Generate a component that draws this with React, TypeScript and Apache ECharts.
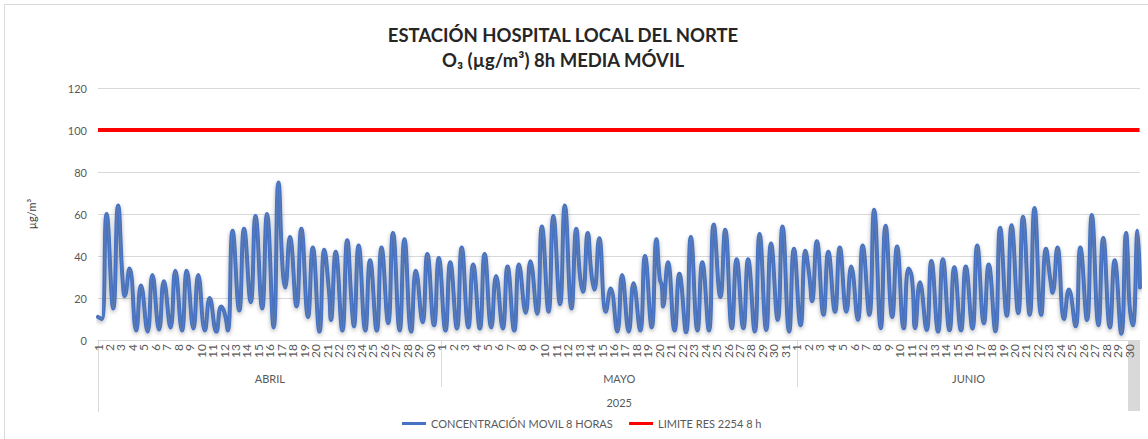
import React, { useEffect, useRef } from 'react';
import * as echarts from 'echarts';

const TITLE_1 = 'ESTACIÓN HOSPITAL LOCAL DEL NORTE';
const TITLE_2 = 'O₃ (µg/m³) 8h MEDIA MÓVIL';
const Y_NAME = 'µg/m³';
const YEAR = '2025';
const MONTHS = ['ABRIL', 'MAYO', 'JUNIO'];
const DAYS_IN_MONTH = [30, 31, 30];
const SERIES_NAMES = ['CONCENTRACIÓN MOVIL 8 HORAS', 'LIMITE RES 2254 8 h'];
const LIMIT_VALUE = 100;

// Daily minimum (morning) and maximum (evening) of the 8h moving average
const APR_TROUGH = [10, 15, 21, 4.5, 4, 5, 6, 4.5, 5.5, 4.5, 4, 4.5, 14, 18, 15, 6, 25, 16, 11, 4, 9.5, 4.5, 6.5, 4.5, 4.5, 8, 4.5, 4, 8.5, 7];
const APR_PEAK = [60, 64, 34, 26, 31, 28, 33, 33, 31, 20, 16, 52, 53, 59, 60, 75, 49, 53, 44, 43, 42, 47.5, 45, 38, 44, 51, 48, 33, 41, 39];
const MAY_TROUGH = [4.5, 5.5, 6, 5.5, 6, 5.5, 4.5, 13, 12.5, 13.5, 17, 15, 23, 24, 13.5, 4, 4, 4.5, 6, 16, 4.5, 3.7, 4.5, 4.5, 20.5, 5.6, 5.6, 4, 4.8, 9.6, 4];
const MAY_PEAK = [37, 44, 36, 41, 30.5, 35, 36, 37.5, 54, 59, 64, 53, 51, 48.5, 24.5, 31, 27, 40, 48, 37, 31.5, 49, 37, 55, 52.5, 38.4, 38.4, 50.5, 46, 54, 43.5];
const JUN_TROUGH = [7, 18.5, 12, 13.5, 13.5, 9.6, 12, 5.6, 11, 5.6, 5.6, 4.8, 4, 4.6, 4.6, 5.5, 8, 4.2, 11.5, 12.8, 12, 12, 22.5, 10, 6.5, 9.5, 7, 6, 3, 7];
const JUN_PEAK = [42.5, 47, 42, 44, 35, 45, 62, 54.4, 44.5, 34, 27.5, 37.6, 38.5, 34.7, 35, 45, 36, 53.5, 54.7, 58.7, 62.8, 43.5, 44, 24, 44, 59.5, 48.6, 38, 51, 52];
const TROUGH_HOUR = 8;
const PEAK_HOUR = 18;
// extra readings: [month index, day, hour, value]
const EXTRA_POINTS: [number, number, number, number][] = [
  [0, 1, 0, 11], [0, 3, 4, 27], [0, 12, 1, 13], [0, 17, 3, 33], [0, 21, 4, 23], [0, 23, 4, 15],
  [1, 13, 2, 30], [1, 14, 2, 31], [1, 20, 1, 29], [1, 20, 5, 26],
  [2, 2, 2, 31], [2, 11, 1, 30], [2, 23, 3, 29], [2, 29, 21, 42], [2, 30, 1, 17], [2, 30, 23, 25],
];

const TROUGHS = [APR_TROUGH, MAY_TROUGH, JUN_TROUGH];
const PEAKS = [APR_PEAK, MAY_PEAK, JUN_PEAK];

const categories: string[] = [];
const monthStart: number[] = [];
MONTHS.forEach((m, mi) => {
  monthStart.push(categories.length);
  for (let d = 1; d <= DAYS_IN_MONTH[mi]; d++) {
    for (let h = 0; h < 24; h++) categories.push(`${m}|${d}|${h}`);
  }
});
const total = categories.length;
const conc: (number | null)[] = categories.map(() => null);
TROUGHS.forEach((arr, mi) => arr.forEach((v, di) => { conc[monthStart[mi] + di * 24 + TROUGH_HOUR] = v; }));
PEAKS.forEach((arr, mi) => arr.forEach((v, di) => { conc[monthStart[mi] + di * 24 + PEAK_HOUR] = v; }));
EXTRA_POINTS.forEach(([mi, d, h, v]) => { conc[monthStart[mi] + (d - 1) * 24 + h] = v; });
const limitData = categories.map(() => LIMIT_VALUE);
const monthMid = MONTHS.map((_, mi) => monthStart[mi] + (DAYS_IN_MONTH[mi] * 24) / 2);
const yearMid = Math.round(total / 2);

const FONT = 'Lato';
const TXT = '#595959';
const GRID = '#d9d9d9';

const dayLabel = (parity: number) => ({
  interval: (i: number) => i % 24 === 0 && (i / 24) % 2 === parity,
  formatter: (v: string) => v.split('|')[1],
  rotate: 90,
  fontSize: 12,
  color: TXT,
  margin: 4,
  fontFamily: FONT,
  showMinLabel: true,
  showMaxLabel: true,
});

export default function App() {
  const ref = useRef<HTMLDivElement>(null);
  useEffect(() => {
    document.body.style.margin = '0';
    const chart = echarts.init(ref.current!, undefined, { renderer: 'svg' });
    const smooth = 0.5;
    chart.setOption({
      animation: false,
      textStyle: { fontFamily: FONT },
      title: {
        text: TITLE_1 + '\n' + TITLE_2,
        left: 558,
        top: 17,
        textAlign: 'center',
        textStyle: { fontFamily: FONT, fontSize: 18.5, fontWeight: 'bold', color: '#262626', lineHeight: 25 },
      },
      legend: {
        data: SERIES_NAMES,
        left: 397,
        top: 413,
        icon: 'rect',
        itemWidth: 24,
        itemHeight: 3,
        itemGap: 16,
        textStyle: { fontFamily: FONT, fontSize: 11, color: TXT },
      },
      grid: { left: 98, right: 8, top: 88, bottom: 99, containLabel: false },
      xAxis: [
        {
          type: 'category',
          data: categories,
          boundaryGap: false,
          position: 'bottom',
          axisLine: { show: true, lineStyle: { color: GRID, width: 1 } },
          axisTick: { show: false },
          axisLabel: dayLabel(0),
          splitLine: { show: false },
        },
        {
          type: 'category',
          data: categories,
          boundaryGap: false,
          position: 'bottom',
          axisLine: { show: false },
          axisTick: { show: false },
          axisLabel: dayLabel(1),
          splitLine: { show: false },
        },
        {
          type: 'category',
          data: categories,
          boundaryGap: false,
          position: 'bottom',
          axisLine: { show: false },
          axisTick: {
            show: true,
            interval: (i: number) => monthStart.includes(i),
            length: 47,
            lineStyle: { color: GRID },
          },
          axisLabel: {
            interval: (i: number) => monthMid.includes(i),
            formatter: (_v: string, i: number) => MONTHS[monthMid.indexOf(i)] ?? '',
            fontSize: 11,
            color: TXT,
            margin: 33,
            fontFamily: FONT,
          },
        },
        {
          type: 'category',
          data: categories,
          boundaryGap: false,
          position: 'bottom',
          axisLine: { show: false },
          axisTick: {
            show: true,
            interval: (i: number) => i === 0,
            length: 72,
            lineStyle: { color: GRID },
          },
          axisLabel: {
            interval: (i: number) => i === yearMid,
            formatter: () => YEAR,
            fontSize: 11,
            color: TXT,
            margin: 57,
            fontFamily: FONT,
          },
        },
      ],
      yAxis: {
        type: 'value',
        min: 0,
        max: 120,
        interval: 20,
        name: Y_NAME,
        nameLocation: 'middle',
        nameRotate: 90,
        nameGap: 61,
        nameTextStyle: { fontFamily: FONT, fontSize: 11, color: '#404040' },
        axisLine: { show: false },
        axisTick: { show: false },
        axisLabel: { fontSize: 11, color: TXT, margin: 11, fontFamily: FONT },
        splitLine: { lineStyle: { color: GRID, width: 1 } },
      },
      graphic: [
        {
          type: 'rect',
          z: -10,
          shape: { x: 4.5, y: 4.5, width: 1170, height: 460 },
          style: { fill: 'none', stroke: GRID, lineWidth: 1 },
        },
        {
          type: 'rect',
          z: -10,
          shape: { x: 1128, y: 341, width: 12, height: 70 },
          style: { fill: '#d9d9d9' },
        },
      ],
      series: [
        {
          name: SERIES_NAMES[0],
          type: 'line',
          data: conc,
          connectNulls: true,
          smooth,
          showSymbol: false,
          symbol: 'none',
          itemStyle: { color: '#4472C4' },
          lineStyle: {
            color: '#4472C4', width: 4, cap: 'round', join: 'round',
            shadowColor: 'rgba(0,0,0,0.3)', shadowBlur: 4, shadowOffsetY: 2,
          },
          z: 3,
        },
        {
          name: 'core',
          type: 'line',
          data: conc,
          connectNulls: true,
          smooth,
          showSymbol: false,
          symbol: 'none',
          silent: true,
          lineStyle: { color: 'rgba(140,140,140,0.45)', width: 1 },
          z: 4,
        },
        {
          name: SERIES_NAMES[1],
          type: 'line',
          data: limitData,
          showSymbol: false,
          symbol: 'none',
          itemStyle: { color: '#FF0000' },
          lineStyle: { color: '#FF0000', width: 4 },
          z: 2,
        },
      ],
    });
    return () => chart.dispose();
  }, []);
  return <div ref={ref} style={{ width: 1148, height: 439 }} />;
}
